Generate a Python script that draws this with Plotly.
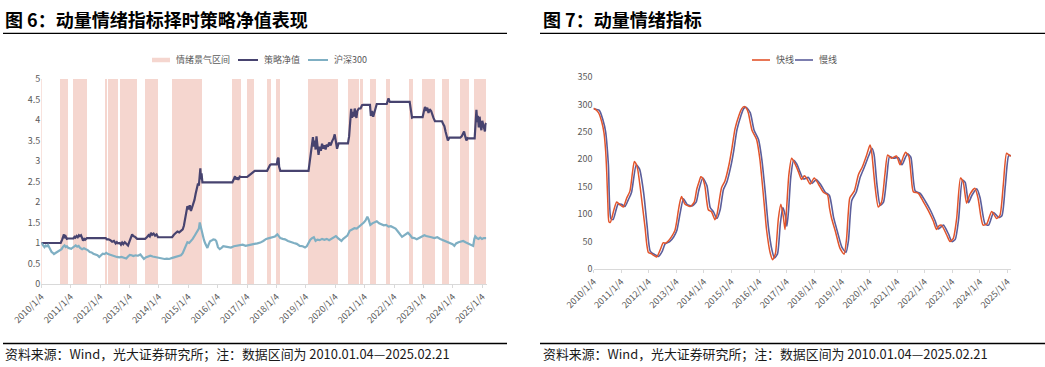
import plotly.graph_objects as go

# ---------------- data (decimal years) ----------------
band_start = [2010.01, 2010.67, 2011.10, 2012.20, 2012.30, 2012.68, 2013.54, 2014.46, 2016.51, 2017.01, 2017.69,
              2018.02, 2019.10, 2020.44, 2020.87, 2021.19, 2021.76, 2022.54, 2022.98, 2023.64, 2024.26, 2024.75]
band_end = [2010.04, 2010.92, 2011.56, 2012.24, 2012.62, 2013.27, 2013.98, 2015.49, 2016.81, 2017.27, 2017.83,
            2018.14, 2020.12, 2020.81, 2020.96, 2021.42, 2021.87, 2022.65, 2023.40, 2023.89, 2024.56, 2025.14]

strategy = [
    (2010.01, 1.00), (2010.67, 1.00), (2010.72, 1.08), (2010.76, 1.14), (2010.78, 1.21), (2010.80, 1.12), (2010.84, 1.16),
    (2010.88, 1.10), (2010.92, 1.11), (2011.10, 1.11), (2011.14, 1.15), (2011.17, 1.13), (2011.21, 1.17), (2011.25, 1.14),
    (2011.29, 1.19), (2011.32, 1.17), (2011.36, 1.19), (2011.40, 1.12), (2011.43, 1.06), (2011.47, 1.10), (2011.50, 1.08),
    (2011.56, 1.12), (2012.20, 1.12), (2012.24, 1.09), (2012.30, 1.09), (2012.36, 1.07), (2012.42, 1.03), (2012.48, 1.05),
    (2012.54, 0.99), (2012.58, 1.02), (2012.62, 0.99), (2012.68, 1.00), (2012.72, 0.96), (2012.76, 1.01), (2012.80, 0.97),
    (2012.85, 1.02), (2012.90, 0.98), (2012.96, 0.94), (2013.01, 1.04), (2013.06, 1.12), (2013.10, 1.21), (2013.14, 1.17),
    (2013.20, 1.15), (2013.27, 1.10), (2013.54, 1.10), (2013.60, 1.14), (2013.66, 1.19), (2013.70, 1.16), (2013.74, 1.25),
    (2013.78, 1.20), (2013.83, 1.23), (2013.88, 1.18), (2013.93, 1.21), (2013.98, 1.14), (2014.46, 1.14), (2014.52, 1.20),
    (2014.58, 1.24), (2014.64, 1.28), (2014.70, 1.26), (2014.76, 1.30), (2014.82, 1.33), (2014.86, 1.42), (2014.90, 1.60),
    (2014.94, 1.78), (2014.98, 1.90), (2015.02, 1.82), (2015.06, 1.92), (2015.10, 1.78), (2015.14, 1.86), (2015.18, 1.95),
    (2015.22, 2.05), (2015.26, 2.20), (2015.30, 2.35), (2015.34, 2.45), (2015.37, 2.40), (2015.40, 2.62), (2015.42, 2.82),
    (2015.44, 2.55), (2015.46, 2.70), (2015.49, 2.48), (2016.51, 2.48), (2016.56, 2.56), (2016.60, 2.63), (2016.63, 2.55),
    (2016.67, 2.60), (2016.71, 2.54), (2016.76, 2.62), (2016.81, 2.61), (2017.01, 2.61), (2017.08, 2.65), (2017.15, 2.70),
    (2017.22, 2.74), (2017.27, 2.76), (2017.69, 2.76), (2017.74, 2.85), (2017.79, 2.90), (2017.83, 2.92), (2018.02, 2.92),
    (2018.05, 3.05), (2018.08, 3.08), (2018.10, 2.86), (2018.14, 2.76), (2019.10, 2.76), (2019.14, 2.95), (2019.18, 3.20),
    (2019.22, 3.45), (2019.25, 3.58), (2019.28, 3.35), (2019.31, 3.50), (2019.34, 3.28), (2019.37, 3.60), (2019.40, 3.40),
    (2019.44, 3.15), (2019.48, 3.35), (2019.52, 3.25), (2019.56, 3.42), (2019.60, 3.30), (2019.64, 3.38), (2019.68, 3.28),
    (2019.72, 3.40), (2019.76, 3.35), (2019.80, 3.45), (2019.85, 3.38), (2019.90, 3.48), (2019.95, 3.55), (2019.99, 3.65),
    (2020.03, 3.45), (2020.07, 3.30), (2020.12, 3.43), (2020.44, 3.43), (2020.48, 3.60), (2020.52, 3.95), (2020.55, 4.27),
    (2020.58, 4.05), (2020.61, 4.20), (2020.64, 4.08), (2020.67, 4.28), (2020.70, 4.12), (2020.73, 4.05), (2020.76, 4.22),
    (2020.81, 4.28), (2020.87, 4.28), (2020.92, 4.36), (2020.96, 4.37), (2021.19, 4.37), (2021.22, 4.10), (2021.26, 4.22),
    (2021.30, 4.08), (2021.34, 4.20), (2021.38, 4.32), (2021.42, 4.39), (2021.76, 4.39), (2021.80, 4.47), (2021.82, 4.53),
    (2021.85, 4.46), (2021.87, 4.44), (2022.54, 4.44), (2022.58, 4.25), (2022.62, 4.06), (2022.65, 4.07), (2022.98, 4.07),
    (2023.02, 4.20), (2023.06, 4.32), (2023.10, 4.22), (2023.14, 4.30), (2023.18, 4.17), (2023.22, 4.26), (2023.27, 4.22),
    (2023.31, 4.12), (2023.35, 4.05), (2023.40, 3.97), (2023.64, 3.97), (2023.68, 3.90), (2023.72, 3.85), (2023.76, 3.72),
    (2023.80, 3.62), (2023.84, 3.50), (2023.89, 3.57), (2024.26, 3.57), (2024.31, 3.60), (2024.35, 3.66), (2024.39, 3.72),
    (2024.43, 3.60), (2024.47, 3.50), (2024.51, 3.56), (2024.56, 3.55), (2024.75, 3.55), (2024.78, 3.90), (2024.81, 4.25),
    (2024.84, 3.95), (2024.86, 4.10), (2024.89, 3.82), (2024.92, 4.08), (2024.95, 3.85), (2024.98, 3.75), (2025.01, 3.98),
    (2025.04, 3.90), (2025.07, 3.78), (2025.10, 3.72), (2025.12, 3.88), (2025.14, 3.93),
]

hs300 = [
    (2010.01, 1.00), (2010.05, 0.97), (2010.09, 0.92), (2010.12, 0.90), (2010.16, 0.94), (2010.20, 0.92), (2010.24, 0.95),
    (2010.28, 0.90), (2010.32, 0.82), (2010.36, 0.78), (2010.40, 0.76), (2010.44, 0.73), (2010.48, 0.75), (2010.52, 0.77),
    (2010.56, 0.80), (2010.60, 0.80), (2010.65, 0.83), (2010.70, 0.85), (2010.75, 0.91), (2010.80, 0.94), (2010.84, 0.90),
    (2010.88, 0.92), (2010.93, 0.88), (2010.98, 0.86), (2011.03, 0.86), (2011.08, 0.89), (2011.13, 0.92), (2011.18, 0.94),
    (2011.23, 0.91), (2011.28, 0.93), (2011.33, 0.88), (2011.40, 0.85), (2011.46, 0.87), (2011.53, 0.85), (2011.60, 0.82),
    (2011.66, 0.78), (2011.72, 0.77), (2011.78, 0.74), (2011.85, 0.72), (2011.92, 0.70), (2011.98, 0.66), (2012.04, 0.70),
    (2012.10, 0.74), (2012.16, 0.73), (2012.22, 0.76), (2012.28, 0.73), (2012.35, 0.71), (2012.42, 0.69), (2012.50, 0.68),
    (2012.58, 0.66), (2012.66, 0.65), (2012.74, 0.66), (2012.82, 0.64), (2012.90, 0.62), (2012.96, 0.67), (2013.02, 0.71),
    (2013.08, 0.70), (2013.14, 0.68), (2013.22, 0.70), (2013.30, 0.69), (2013.38, 0.72), (2013.45, 0.64), (2013.50, 0.61),
    (2013.56, 0.65), (2013.64, 0.67), (2013.72, 0.69), (2013.80, 0.67), (2013.88, 0.66), (2013.96, 0.65), (2014.04, 0.63),
    (2014.12, 0.62), (2014.20, 0.61), (2014.28, 0.62), (2014.36, 0.61), (2014.44, 0.63), (2014.52, 0.65), (2014.60, 0.66),
    (2014.68, 0.68), (2014.76, 0.70), (2014.82, 0.75), (2014.88, 0.85), (2014.93, 0.95), (2014.98, 1.02), (2015.04, 1.00),
    (2015.10, 1.04), (2015.16, 1.10), (2015.22, 1.17), (2015.28, 1.25), (2015.33, 1.30), (2015.37, 1.35), (2015.40, 1.50),
    (2015.43, 1.40), (2015.46, 1.30), (2015.50, 1.15), (2015.54, 1.08), (2015.58, 1.00), (2015.62, 0.92), (2015.66, 0.88),
    (2015.70, 0.96), (2015.75, 1.04), (2015.80, 1.06), (2015.86, 1.09), (2015.92, 1.08), (2015.96, 1.05), (2016.02, 0.90),
    (2016.08, 0.85), (2016.14, 0.88), (2016.20, 0.92), (2016.28, 0.91), (2016.36, 0.90), (2016.46, 0.89), (2016.56, 0.92),
    (2016.66, 0.93), (2016.76, 0.95), (2016.86, 0.96), (2016.96, 0.93), (2017.06, 0.95), (2017.16, 0.97), (2017.26, 0.98),
    (2017.36, 0.99), (2017.46, 1.01), (2017.56, 1.05), (2017.66, 1.10), (2017.76, 1.12), (2017.86, 1.14), (2017.96, 1.16),
    (2018.04, 1.21), (2018.09, 1.17), (2018.14, 1.12), (2018.22, 1.10), (2018.30, 1.09), (2018.40, 1.05), (2018.50, 1.02),
    (2018.60, 1.00), (2018.70, 0.98), (2018.80, 0.93), (2018.90, 0.92), (2018.98, 0.89), (2019.04, 0.92), (2019.10, 1.00),
    (2019.16, 1.08), (2019.22, 1.12), (2019.28, 1.14), (2019.34, 1.05), (2019.40, 1.08), (2019.48, 1.07), (2019.56, 1.10),
    (2019.64, 1.08), (2019.72, 1.10), (2019.80, 1.07), (2019.88, 1.10), (2019.96, 1.14), (2020.03, 1.17), (2020.10, 1.12),
    (2020.16, 1.08), (2020.22, 1.05), (2020.28, 1.10), (2020.34, 1.14), (2020.42, 1.18), (2020.50, 1.30), (2020.58, 1.33),
    (2020.66, 1.36), (2020.74, 1.35), (2020.82, 1.40), (2020.90, 1.43), (2020.98, 1.50), (2021.04, 1.55), (2021.10, 1.64),
    (2021.14, 1.58), (2021.20, 1.44), (2021.27, 1.48), (2021.34, 1.50), (2021.42, 1.53), (2021.50, 1.48), (2021.58, 1.45),
    (2021.66, 1.43), (2021.74, 1.44), (2021.82, 1.40), (2021.90, 1.41), (2021.98, 1.37), (2022.06, 1.35), (2022.14, 1.28),
    (2022.20, 1.23), (2022.28, 1.15), (2022.34, 1.18), (2022.40, 1.22), (2022.48, 1.25), (2022.56, 1.19), (2022.62, 1.13),
    (2022.70, 1.12), (2022.78, 1.09), (2022.86, 1.12), (2022.96, 1.16), (2023.04, 1.19), (2023.10, 1.17), (2023.18, 1.15),
    (2023.28, 1.14), (2023.38, 1.12), (2023.48, 1.14), (2023.58, 1.10), (2023.68, 1.07), (2023.76, 1.04), (2023.84, 1.02),
    (2023.92, 0.99), (2024.00, 0.97), (2024.06, 0.93), (2024.12, 0.99), (2024.20, 1.02), (2024.28, 1.04), (2024.36, 1.05),
    (2024.44, 1.02), (2024.52, 0.99), (2024.60, 0.97), (2024.66, 0.94), (2024.70, 0.93), (2024.74, 1.10), (2024.77, 1.16),
    (2024.82, 1.12), (2024.88, 1.10), (2024.94, 1.13), (2025.00, 1.10), (2025.06, 1.12), (2025.14, 1.12),
]

fast_line = [
    (2010.01, 293), (2010.08, 291), (2010.19, 285), (2010.31, 268), (2010.39, 248), (2010.45, 215), (2010.49, 175),
    (2010.53, 120), (2010.57, 86), (2010.62, 85), (2010.67, 92), (2010.75, 108), (2010.85, 122), (2010.97, 117),
    (2011.09, 113), (2011.15, 120), (2011.21, 129), (2011.33, 142), (2011.42, 175), (2011.49, 196), (2011.55, 192),
    (2011.61, 182), (2011.70, 150), (2011.76, 125), (2011.82, 100), (2011.88, 75), (2011.94, 45), (2012.00, 30),
    (2012.10, 28), (2012.18, 25), (2012.30, 22), (2012.42, 34), (2012.54, 48), (2012.62, 47), (2012.70, 50),
    (2012.84, 59), (2012.96, 70), (2013.02, 85), (2013.08, 105), (2013.14, 122), (2013.20, 132), (2013.27, 124),
    (2013.33, 118), (2013.51, 114), (2013.66, 122), (2013.75, 145), (2013.83, 158), (2013.90, 168), (2013.97, 165),
    (2014.05, 150), (2014.11, 125), (2014.17, 108), (2014.29, 104), (2014.41, 90), (2014.47, 96), (2014.53, 112),
    (2014.65, 148), (2014.77, 160), (2014.92, 190), (2015.02, 218), (2015.14, 256), (2015.28, 280), (2015.38, 292),
    (2015.47, 296), (2015.55, 293), (2015.62, 285), (2015.70, 265), (2015.76, 252), (2015.92, 236), (2016.04, 200),
    (2016.10, 170), (2016.16, 138), (2016.22, 105), (2016.28, 72), (2016.41, 30), (2016.50, 17), (2016.56, 22),
    (2016.61, 30), (2016.66, 60), (2016.71, 92), (2016.80, 118), (2016.89, 95), (2016.95, 72), (2017.01, 112),
    (2017.09, 172), (2017.19, 202), (2017.31, 192), (2017.43, 178), (2017.55, 163), (2017.65, 170), (2017.73, 166),
    (2017.86, 155), (2018.01, 166), (2018.16, 155), (2018.34, 140), (2018.49, 135), (2018.56, 112), (2018.64, 92),
    (2018.78, 68), (2018.94, 38), (2019.09, 27), (2019.18, 55), (2019.24, 100), (2019.30, 130), (2019.46, 142),
    (2019.61, 172), (2019.75, 186), (2019.91, 208), (2020.03, 226), (2020.07, 220), (2020.11, 205), (2020.21, 152),
    (2020.33, 113), (2020.45, 122), (2020.57, 172), (2020.67, 208), (2020.81, 202), (2020.99, 206), (2021.12, 190),
    (2021.24, 205), (2021.32, 213), (2021.44, 205), (2021.52, 170), (2021.60, 141), (2021.78, 138), (2021.96, 123),
    (2022.14, 107), (2022.32, 88), (2022.44, 72), (2022.52, 78), (2022.62, 80), (2022.81, 62), (2022.93, 50),
    (2023.05, 56), (2023.17, 92), (2023.31, 166), (2023.41, 158), (2023.53, 120), (2023.65, 136), (2023.83, 147),
    (2023.95, 128), (2024.05, 95), (2024.13, 80), (2024.26, 82), (2024.44, 105), (2024.62, 92), (2024.74, 98),
    (2024.86, 153), (2024.98, 211), (2025.06, 208), (2025.14, 206),
]

slow_line = [
    (2010.01, 292), (2010.22, 289), (2010.35, 272), (2010.45, 250), (2010.55, 190), (2010.64, 92), (2010.72, 90),
    (2010.90, 118), (2011.02, 118), (2011.15, 114), (2011.27, 126), (2011.39, 140), (2011.56, 190), (2011.68, 182),
    (2011.83, 138), (2011.95, 80), (2012.07, 32), (2012.24, 26), (2012.37, 23), (2012.50, 32), (2012.61, 46),
    (2012.77, 50), (2012.91, 58), (2013.03, 70), (2013.15, 102), (2013.27, 128), (2013.40, 118), (2013.58, 115),
    (2013.73, 122), (2013.82, 142), (2013.97, 166), (2014.12, 152), (2014.24, 112), (2014.36, 104), (2014.48, 92),
    (2014.60, 108), (2014.72, 145), (2014.84, 158), (2014.99, 188), (2015.09, 215), (2015.21, 254), (2015.35, 279),
    (2015.45, 292), (2015.54, 295), (2015.69, 285), (2015.83, 253), (2015.99, 236), (2016.11, 200), (2016.23, 142),
    (2016.35, 76), (2016.48, 34), (2016.57, 20), (2016.68, 28), (2016.78, 82), (2016.87, 112), (2016.96, 98),
    (2017.02, 78), (2017.08, 108), (2017.16, 168), (2017.26, 198), (2017.38, 191), (2017.50, 176), (2017.62, 164),
    (2017.80, 167), (2017.93, 156), (2018.08, 163), (2018.23, 155), (2018.41, 140), (2018.56, 134), (2018.71, 94),
    (2018.85, 68), (2019.01, 40), (2019.16, 30), (2019.25, 52), (2019.37, 125), (2019.53, 140), (2019.68, 168),
    (2019.82, 185), (2019.98, 206), (2020.10, 220), (2020.18, 208), (2020.28, 155), (2020.40, 116), (2020.52, 122),
    (2020.64, 168), (2020.74, 205), (2020.88, 202), (2021.06, 203), (2021.19, 190), (2021.31, 203), (2021.39, 210),
    (2021.51, 204), (2021.67, 142), (2021.85, 138), (2022.03, 124), (2022.21, 108), (2022.39, 88), (2022.51, 73),
    (2022.69, 80), (2022.88, 63), (2023.00, 50), (2023.12, 54), (2023.24, 90), (2023.38, 162), (2023.48, 158),
    (2023.60, 121), (2023.72, 134), (2023.90, 146), (2024.02, 130), (2024.20, 82), (2024.33, 80), (2024.51, 103),
    (2024.69, 94), (2024.81, 97), (2024.93, 150), (2025.05, 206), (2025.11, 207), (2025.14, 206),
]

tick_years = list(range(2010, 2026))
tick_labels = [f"{y}/1/4" for y in tick_years]

# ---------------- styling ----------------
PINK = "#F5D6CF"
NAVY = "#47436F"
TEAL = "#7FAFC3"
RED = "#E2542B"
PURPLE = "#5B5E9B"
FONT = "Noto Sans CJK SC"
TICKC = "#595959"

W, H = 1045, 367


def px(x):
    return x / W


def py(y):
    return 1 - y / H


fig = go.Figure()

# bands (as bars)
centers = [(s + e) / 2 for s, e in zip(band_start, band_end)]
widths = [e - s for s, e in zip(band_start, band_end)]
fig.add_trace(go.Bar(x=centers, y=[5] * len(centers), width=widths, marker=dict(color=PINK, line=dict(width=0)),
                     name="情绪景气区间", hoverinfo="skip", xaxis="x", yaxis="y"))
fig.add_trace(go.Scatter(x=[p[0] for p in strategy], y=[p[1] for p in strategy], mode="lines",
                         line=dict(color=NAVY, width=2.2), name="策略净值", xaxis="x", yaxis="y"))
fig.add_trace(go.Scatter(x=[p[0] for p in hs300], y=[p[1] for p in hs300], mode="lines",
                         line=dict(color=TEAL, width=2.2), name="沪深300", xaxis="x", yaxis="y"))
fig.add_trace(go.Scatter(x=[p[0] for p in slow_line], y=[p[1] for p in slow_line], mode="lines",
                         line=dict(color=PURPLE, width=1.6, shape="spline", smoothing=0.6), name="慢线",
                         xaxis="x2", yaxis="y2"))
fig.add_trace(go.Scatter(x=[p[0] for p in fast_line], y=[p[1] for p in fast_line], mode="lines",
                         line=dict(color=RED, width=1.5, shape="spline", smoothing=0.6), name="快线",
                         xaxis="x2", yaxis="y2"))

axis_common = dict(showgrid=False, zeroline=False, automargin=False,
                   tickfont=dict(family=FONT, size=9, color=TICKC))
xcommon = dict(axis_common, tickmode="array", tickvals=[y + 0.01 for y in tick_years], ticktext=tick_labels,
               tickangle=-45, showline=True, linecolor="#D9D9D9", linewidth=1, ticks="outside", ticklen=3,
               tickcolor="#D9D9D9")

fig.update_layout(
    width=W, height=H, margin=dict(l=0, r=0, t=0, b=0, pad=0, autoexpand=False),
    paper_bgcolor="white", plot_bgcolor="white", barmode="overlay", bargap=0,
    font=dict(family=FONT, color=TICKC), showlegend=False,
    xaxis=dict(xcommon, domain=[px(41.3), px(486.7)], range=[2010.01, 2025.16], anchor="y"),
    yaxis=dict(axis_common, domain=[py(284), py(79)], range=[0, 5], dtick=0.5, anchor="x"),
    xaxis2=dict(xcommon, domain=[px(593.5), px(1011)], range=[2010.01, 2025.14], anchor="y2"),
    yaxis2=dict(axis_common, domain=[py(269), py(77)], range=[0, 350], dtick=50, anchor="x2"),
)

# legend keys (drawn in paper space): (symbol x0, x1, label, colour, thickness)
legend_keys = [
    (152, 170, "情绪景气区间", PINK, 4.5),
    (238, 258, "策略净值", NAVY, 2),
    (308, 328, "沪深300", TEAL, 2),
    (752, 770, "快线", RED, 1.6),
    (795, 813, "慢线", PURPLE, 1.6),
]
LEG_Y = 60
for x0, x1, label, colour, thick in legend_keys:
    fig.add_shape(type="line", xref="paper", yref="paper", x0=px(x0), x1=px(x1), y0=py(LEG_Y), y1=py(LEG_Y),
                  line=dict(color=colour, width=thick))
    fig.add_annotation(x=px(x1 + 3.5), y=py(LEG_Y), xref="paper", yref="paper", xanchor="left", yanchor="middle",
                       text=label, showarrow=False, font=dict(family=FONT, size=9, color=TICKC))

# rules
for x0, x1 in [(3, 507), (540, 1045)]:
    for yy in (33.3, 343.5):
        fig.add_shape(type="line", xref="paper", yref="paper", x0=px(x0), x1=px(x1), y0=py(yy), y1=py(yy),
                      line=dict(color="black", width=1.3))

# titles and notes
for x0, txt in [(3, "图 6：动量情绪指标择时策略净值表现"), (541, "图 7：动量情绪指标")]:
    fig.add_annotation(x=px(x0), y=py(18.8), xref="paper", yref="paper", xanchor="left", yanchor="middle",
                       text=f"<b>{txt}</b>", showarrow=False, font=dict(family=FONT, size=18, color="black"))
note = "资料来源：Wind，光大证券研究所；注：数据区间为 2010.01.04—2025.02.21"
for x0 in (3, 541):
    fig.add_annotation(x=px(x0), y=py(353.5), xref="paper", yref="paper", xanchor="left", yanchor="middle",
                       text=note, showarrow=False, font=dict(family=FONT, size=12.9, color="#1a1a1a"))

fig.write_html("out.html", config={"displayModeBar": False},
               post_script="document.body.style.margin='0px';document.body.style.overflow='hidden';")
